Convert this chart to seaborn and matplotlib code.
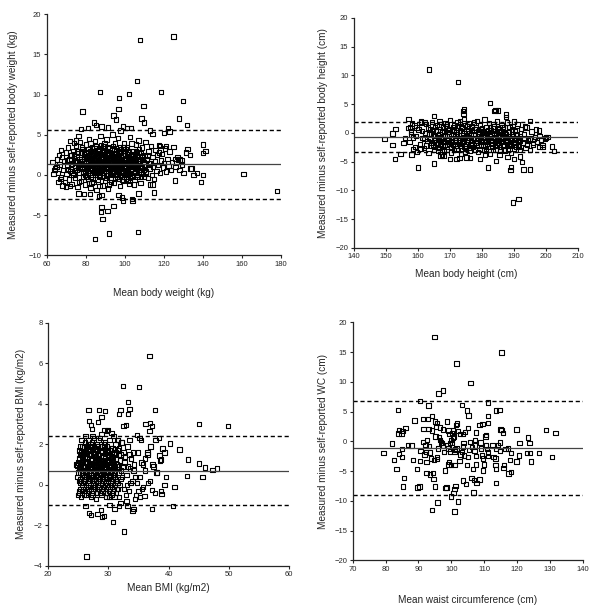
import matplotlib

matplotlib.use("Agg")
import matplotlib.pyplot as plt
import pandas as pd
import seaborn as sns

# ---- body weight: (mean, measured - self-reported) ----
weight_core = [
    (64.2, 0.8), (65.1, 1.9), (65.8, 0.2), (66.5, 1.3), (67.2, -0.3), (67.9, 2.2), (68.4, 0.6), (68.8, 1.7),
    (69.3, -0.9), (69.7, 2.8), (70.1, 0.1), (70.6, 1.1), (70.9, 3.4), (71.3, -0.6), (71.6, 1.9), (72.0, 0.5),
    (72.3, 2.5), (72.7, -1.1), (73.0, 1.4), (73.4, 3.0), (73.7, 0.0), (74.1, 2.1), (74.4, -0.4), (74.8, 0.9),
    (75.1, 3.6), (75.4, 1.6), (75.8, -1.5), (76.1, 2.7), (76.4, 0.3), (76.8, 1.2), (77.1, 4.1), (77.4, -0.8),
    (77.7, 2.0), (78.0, 0.7), (78.3, 3.2), (78.6, -0.2), (78.9, 1.5), (79.2, 2.6), (79.5, -1.2), (79.8, 0.4),
    (80.1, 3.8), (80.4, 1.0), (80.7, 2.2), (81.0, -0.5), (81.3, 1.7), (81.6, 4.5), (81.9, 0.2), (82.2, 2.9),
    (82.5, -1.6), (82.8, 1.3), (83.1, 3.4), (83.4, 0.6), (83.7, 2.4), (84.0, -0.9), (84.3, 1.9), (84.6, 4.2),
    (84.9, 0.0), (85.2, 2.6), (85.5, -1.9), (85.8, 1.1), (86.1, 3.1), (86.4, 0.5), (86.7, 2.0), (87.0, -0.3),
    (87.3, 1.6), (87.6, 4.8), (87.9, 0.9), (88.2, 2.8), (88.5, -1.3), (88.8, 1.4), (89.1, 3.6), (89.4, 0.2),
    (89.7, 2.3), (90.0, -0.7), (90.3, 1.8), (90.6, 4.4), (90.9, 0.7), (91.2, 2.5), (91.5, -1.7), (91.8, 1.2),
    (92.1, 3.3), (92.4, 0.1), (92.7, 2.1), (93.0, -0.4), (93.3, 1.5), (93.6, 5.0), (93.9, 0.8), (94.2, 2.7),
    (94.5, -1.0), (94.8, 1.0), (95.1, 3.9), (95.4, 0.4), (95.7, 2.2), (96.0, -0.2), (96.3, 1.7), (96.6, 4.6),
    (96.9, 0.6), (97.2, 2.9), (97.5, -1.4), (97.8, 1.3), (98.1, 3.2), (98.4, 0.0), (98.7, 2.0), (99.0, -0.8),
    (99.3, 1.6), (99.6, 4.0), (99.9, 0.9), (100.2, 2.4), (100.5, -0.5), (100.8, 1.1), (101.1, 3.5), (101.4, 0.3),
    (101.7, 1.9), (102.0, -1.1), (102.3, 1.4), (102.6, 4.7), (102.9, 0.6), (103.2, 2.6), (103.5, -0.1), (103.8, 1.2),
    (104.1, 3.0), (104.4, 0.2), (104.7, 2.1), (105.0, -0.6), (105.3, 1.5), (105.6, 3.8), (105.9, 0.8), (106.2, 2.3),
    (106.5, -0.3), (106.8, 1.0), (107.1, 4.3), (107.4, 0.4), (107.7, 1.8), (108.0, -1.0), (108.3, 2.7), (108.6, 0.9),
    (108.9, 3.4), (109.2, 0.1), (109.5, 1.6), (109.8, -0.2), (110.1, 2.4), (110.4, 1.1), (110.7, 4.1), (111.0, 0.3),
    (111.4, 1.9), (111.8, -0.4), (112.2, 2.9), (112.6, 0.7), (113.0, 1.4), (113.4, 3.6), (113.8, 0.0), (114.2, 2.2),
    (114.6, 1.0), (115.0, -0.5), (115.4, 1.7), (115.8, 3.1), (116.2, 0.5), (116.6, 2.5), (117.0, 1.2), (117.5, 3.7),
    (118.0, 0.2), (118.5, 1.8), (119.0, 2.6), (119.5, 0.9), (120.0, 1.5), (120.6, 3.3), (121.2, 0.4), (121.8, 2.0),
    (122.4, 1.1), (123.0, 2.9), (123.6, 0.6), (124.2, 1.6), (125.0, 3.5), (126.0, 1.0), (127.0, 2.2), (128.0, 0.6),
    (129.0, 1.8),
    (74.5, 1.8), (75.2, 0.6), (75.9, 2.9), (76.6, -0.9), (77.3, 1.4), (78.1, 3.5), (78.8, 0.2), (79.4, 2.3),
    (80.0, -0.3), (80.6, 1.2), (81.2, 2.7), (81.8, 0.9), (82.4, 3.9), (83.0, -1.0), (83.6, 1.6), (84.2, 0.3),
    (84.8, 2.9), (85.4, 1.0), (86.0, -0.6), (86.6, 2.4), (87.2, 0.4), (87.8, 3.7), (88.4, 1.1), (89.0, -0.1),
    (89.6, 2.6), (90.2, 0.5), (90.8, 3.0), (91.4, 1.3), (92.0, -1.2), (92.6, 2.0), (93.2, 0.7), (93.8, 3.6),
    (94.4, 1.4), (95.0, -0.4), (95.6, 2.9), (96.2, 0.1), (96.8, 1.9), (97.4, 3.4), (98.0, 0.8), (98.6, -0.6),
    (99.2, 2.5), (99.8, 1.0), (100.4, 3.2), (101.0, 0.5), (101.6, -0.8), (102.2, 2.3), (102.8, 1.0), (103.4, 3.9),
    (104.0, 0.7), (104.6, -1.2), (105.2, 2.6), (105.8, 1.3), (106.4, 0.0), (107.0, 2.8), (107.6, 1.4), (108.2, -0.3),
    (109.0, 2.0), (110.0, 0.6),
    (78.4, 1.0), (79.0, 2.0), (79.7, 0.0), (80.3, 2.8), (81.1, 1.1), (81.7, -1.0), (82.3, 1.8), (83.0, 0.8),
    (83.8, 3.0), (84.5, 1.4), (85.1, 0.3), (85.9, 2.2), (86.5, 1.6), (87.1, -1.4), (87.7, 2.5), (88.3, 0.2),
    (89.0, 1.9), (89.6, 3.9), (90.3, 1.0), (91.0, 0.0), (91.6, 2.6), (92.3, 1.5), (93.0, -0.9), (93.7, 2.3),
    (94.3, 0.4), (95.0, 1.6), (95.7, 3.1), (96.4, 1.0), (97.1, -0.5), (97.8, 2.4), (98.5, 1.2), (99.3, 0.3),
    (100.0, 3.0), (100.7, 1.6), (101.5, 0.1), (102.3, 2.9), (103.1, 1.6), (104.0, -0.2), (105.0, 1.8), (106.0, 2.5),
    (107.0, 0.6),
    (80.2, 1.6), (80.9, 0.3), (81.5, 2.4), (82.0, 0.9), (82.7, -0.3), (83.3, 2.1), (83.9, 1.2), (84.4, 3.3),
    (85.0, 1.8), (85.6, 0.6), (86.2, 2.9), (86.8, -0.1), (87.4, 1.3), (88.0, 2.2), (88.6, 0.7), (89.2, 3.1),
    (89.8, 1.5), (90.4, -0.4), (91.0, 2.0), (91.7, 0.9), (92.2, 2.8), (92.9, 1.1), (93.5, 0.0), (94.0, 1.9),
    (94.6, 3.2), (95.2, 0.9), (95.9, 1.4), (96.5, 2.5), (97.0, 0.3), (97.6, 1.7), (98.2, 2.7), (98.9, 1.5),
    (99.5, -0.2), (100.1, 1.9), (100.6, 0.8), (101.3, 2.8), (101.9, 1.2), (102.5, 0.2), (103.0, 1.9), (103.6, 1.0),
    (104.3, 2.3),
    (70.4, 1.8), (71.0, 0.7), (71.9, 2.4), (72.5, 1.2), (73.2, 0.2), (73.9, 2.6), (74.6, 0.6), (75.3, 2.3),
    (76.0, 1.0), (76.7, 1.9), (77.5, 2.8), (78.2, 1.7), (79.1, 0.9), (79.9, 1.4), (80.8, 0.5), (81.4, 3.2),
    (82.1, 2.1), (82.9, 1.5), (83.5, 0.0), (84.1, 2.7), (84.7, 0.8), (85.3, 3.6), (85.9, 0.2), (86.3, 1.8),
    (86.9, 3.3), (87.5, 0.6), (88.1, 1.7), (88.7, 2.9), (89.3, 0.9), (89.9, 2.0), (90.5, 1.2), (91.1, 3.5),
    (91.7, 2.1), (92.5, 0.4), (93.1, 2.6), (93.5, 1.0), (94.1, 0.2), (94.7, 2.0), (95.3, 2.6), (95.9, 0.0),
    (96.7, 3.0), (97.3, 1.1), (98.0, 1.9), (98.8, 0.5), (99.4, 3.4), (100.3, 0.1), (100.9, 2.1), (101.8, 2.6),
    (102.7, -0.4), (103.3, 2.0), (104.2, 1.4), (105.1, 0.9), (105.7, 2.9), (106.6, 1.7), (107.3, 3.2), (108.1, 0.9),
    (108.8, 2.3), (109.7, 1.3), (110.6, 0.4), (111.6, 2.4), (112.4, 1.5),
]
weight_outliers = [
    (107.9, 16.8), (124.9, 17.2), (106.2, 11.7), (87.2, 10.3), (102.3, 10.1), (118.5, 10.3), (97.0, 9.6),
    (129.9, 9.2), (109.5, 8.6), (96.7, 8.2), (78.4, 7.9), (94.3, 7.4), (95.4, 6.9), (108.6, 7.0), (127.8, 7.0),
    (109.8, 6.5), (131.9, 6.2), (84.1, 6.5), (77.5, 5.7), (123.0, 5.4), (122.0, 5.8), (120.0, 5.2), (113.0, 5.5),
    (114.2, 5.1), (103.2, 5.8), (101.0, 5.8), (99.0, 6.0), (88.0, 6.0), (85.3, 6.2), (81.0, 5.8), (91.5, 5.9),
    (97.8, 5.5), (140.1, 3.8), (141.4, 2.95), (140.2, 2.7), (133.3, 2.5), (132.2, 3.2), (131.4, 2.8), (127.3, 1.9),
    (129.2, 1.3), (133.6, 0.8), (134.3, 0.8), (137.0, 0.2), (135.2, 0.0), (140.0, 0.0), (130.2, 0.2), (139.0, -0.9),
    (160.8, 0.1), (178.1, -2.0), (125.6, -0.7), (84.8, -8.0), (91.8, -7.3), (106.9, -7.1), (88.6, -5.5),
    (87.7, -4.6), (91.1, -4.5), (88.1, -4.0), (94.2, -3.9), (103.7, -3.0), (103.9, -3.2), (99.0, -3.2),
    (98.5, -2.8), (96.8, -2.5), (107.0, -2.3), (115.1, -2.2), (113.0, -1.2), (114.3, -1.2), (88.0, -2.5),
    (86.8, -2.6), (82.0, -2.4), (79.0, -2.4), (76.2, -2.3), (63.0, 1.6), (63.5, 0.1), (64.0, 0.6), (65.0, 1.0),
    (66.0, -0.9), (67.0, -0.5), (66.3, 2.5), (67.3, 3.1), (68.0, -1.3), (70.0, -1.5), (72.0, -1.4), (74.0, 4.0),
    (75.0, 4.3), (76.2, 4.8), (72.0, 4.2), (118.0, 3.6), (121.0, 3.6), (117.5, 2.8), (126.0, 2.0), (128.0, 1.9),
]

# ---- body height ----
height_core = [
    (156.8, 0.8), (157.3, -1.6), (157.9, 0.2), (158.4, -2.8), (158.9, 1.3), (159.3, -0.5), (159.8, -3.3),
    (160.2, 0.6), (160.6, -1.9), (161.0, 1.8), (161.4, -0.9), (161.8, -2.6), (162.2, 0.0), (162.6, 1.5),
    (163.0, -1.4), (163.3, -3.5), (163.7, 0.7), (164.0, -2.2), (164.4, 1.9), (164.7, -0.4), (165.1, -3.0),
    (165.4, 1.0), (165.8, -1.7), (166.1, 0.3), (166.5, -2.6), (166.8, 2.0), (167.2, -0.9), (167.5, -3.8),
    (167.9, 0.9), (168.2, -1.5), (168.6, 1.6), (168.9, -2.9), (169.3, 0.1), (169.6, -1.1), (170.0, 2.2),
    (170.3, -3.4), (170.7, 0.5), (171.0, -2.0), (171.4, 1.3), (171.7, -0.6), (172.1, -2.7), (172.4, 1.9),
    (172.8, -1.3), (173.1, 0.4), (173.5, -3.6), (173.8, 1.0), (174.2, -0.8), (174.5, 2.4), (174.9, -2.3),
    (175.2, 0.2), (175.6, -1.6), (175.9, 1.6), (176.3, -3.1), (176.6, -0.2), (177.0, 1.2), (177.3, -2.5),
    (177.7, 0.6), (178.0, -1.0), (178.4, 2.1), (178.7, -3.3), (179.1, -0.5), (179.4, 1.4), (179.8, -2.0),
    (180.1, 0.8), (180.5, -1.4), (180.8, 2.3), (181.2, -2.8), (181.5, 0.0), (181.9, -1.1), (182.2, 1.7),
    (182.6, -3.7), (182.9, 0.4), (183.3, -1.9), (183.6, 1.1), (184.0, -0.7), (184.3, -2.9), (184.7, 2.0),
    (185.0, -1.2), (185.4, 0.6), (185.7, -3.2), (186.1, 1.4), (186.4, -0.4), (186.8, -2.2), (187.1, 0.9),
    (187.5, -1.6), (187.8, 1.8), (188.2, -2.7), (188.5, 0.1), (188.9, -1.0), (189.2, -3.5), (189.6, 1.2),
    (189.9, -1.8), (190.3, 0.3), (190.7, -2.4), (191.1, 1.5), (191.5, -0.9), (191.9, -3.0), (192.3, 0.7),
    (192.7, -1.7), (193.1, -0.3), (193.6, -2.6), (194.0, 0.9), (194.5, -1.3), (195.0, -3.0), (195.5, 0.2),
    (196.0, -2.0), (196.6, -0.7), (197.2, -1.6), (197.8, 0.4), (198.4, -1.2), (199.0, -2.1),
    (162.0, -1.0), (162.5, -2.2), (163.1, 0.9), (163.6, -0.2), (164.2, -1.7), (164.8, 0.5), (165.3, -2.5),
    (165.9, 1.4), (166.4, -0.7), (167.0, -2.0), (167.6, 0.2), (168.1, -3.1), (168.7, 1.2), (169.2, -1.6),
    (169.8, -0.3), (170.4, -2.5), (170.9, 1.0), (171.5, -1.2), (172.0, 0.1), (172.6, -3.0), (173.2, 2.0),
    (173.7, -1.8), (174.3, -0.1), (174.8, -3.3), (175.4, 1.1), (175.9, -0.9), (176.5, -2.1), (177.0, 0.3),
    (177.6, 1.8), (178.1, -1.7), (178.7, -0.3), (179.2, -2.8), (179.8, 0.6), (180.3, -0.8), (180.9, -2.2),
    (181.4, 1.0), (182.0, -1.5), (182.5, -0.1), (183.1, -2.5), (183.6, 1.5), (184.2, -1.0), (184.7, 0.3),
    (185.3, -2.0), (185.8, -0.7), (186.4, 1.0), (186.9, -2.9), (187.5, -0.2), (188.0, -1.4), (188.6, 1.0),
    (189.1, -2.2), (189.7, -0.6), (190.2, -1.2), (190.8, 0.5), (191.3, -2.0), (191.9, -0.5), (158.5, -0.8),
    (159.6, 0.9), (160.8, -2.8), (161.3, 0.3), (157.8, -0.3), (158.2, 1.6),
    (166.2, -1.2), (166.9, 0.6), (167.7, -2.4), (168.4, -0.4), (169.1, 1.5), (169.9, -1.9), (170.6, -0.9),
    (171.3, 0.6), (172.2, -0.3), (172.9, -1.9), (173.6, 0.8), (174.4, -1.3), (175.1, -2.7), (175.8, 0.4),
    (176.6, -1.2), (177.4, -0.4), (178.2, 0.9), (178.9, -2.2), (179.6, -1.3), (180.4, 0.2), (181.1, -0.4),
    (181.8, -2.4), (182.6, 0.9), (183.4, -0.9), (184.1, -1.6), (184.9, 0.8), (185.6, -2.5), (186.3, -1.0),
    (187.1, -0.1), (187.9, -2.0), (163.9, -1.0), (165.0, -0.6), (189.4, -0.2), (190.5, -1.6), (192.0, -1.4),
    (164.1, -0.1), (164.9, -2.0), (165.6, 0.4), (166.3, -3.2), (167.1, -1.4), (167.8, 1.1), (168.5, -0.6),
    (169.0, -2.4), (169.7, 0.7), (170.5, -1.4), (171.2, -3.0), (171.9, -0.9), (172.5, 0.9), (173.3, -2.3),
    (174.0, -0.4), (174.7, 1.4), (175.5, -1.2), (176.1, -2.6), (176.9, 0.9), (177.5, -1.0), (178.3, -2.2),
    (179.0, 0.2), (179.7, -0.7), (180.6, -3.0), (181.3, -1.6), (182.1, 0.5), (182.8, -1.2), (183.5, -3.0),
    (184.4, 0.0), (185.1, -1.8), (185.9, 0.2), (186.6, -1.4), (187.3, -3.1), (188.1, -0.6), (188.8, -1.9),
    (189.5, 0.6), (190.1, -2.8), (190.9, -0.4), (191.7, -1.3), (193.3, -1.0), (194.2, -2.0), (196.3, -1.1),
    (165.2, -1.2), (166.0, -1.9), (166.7, -0.2), (167.4, -1.1), (168.3, -2.1), (169.0, -0.5), (169.5, 0.5),
    (170.2, -1.6), (171.1, -0.4), (171.8, -1.6), (172.3, -2.2), (173.0, -0.9), (173.9, -1.5), (174.6, -2.4),
    (175.3, -0.5), (176.0, 0.0), (176.8, -1.7), (177.8, -2.9), (178.5, -1.3), (179.3, -0.1), (180.0, -1.6),
    (180.7, -0.3), (181.6, -1.9), (182.4, -0.6), (183.2, -1.4), (183.9, -0.2), (184.6, -2.2), (185.2, -0.5),
    (186.0, -1.6), (186.7, -0.8), (187.4, -1.2), (188.4, -2.3), (189.3, -0.9), (190.6, -0.9), (191.6, -2.4),
]
height_outliers = [
    (163.4, 11.0), (172.5, 8.8), (182.6, 5.2), (183.9, 3.8), (185.0, 3.9), (184.3, 4.0), (174.5, 4.1),
    (174.1, 3.8), (174.2, 3.3), (187.5, 3.2), (187.6, 2.8), (195.0, 2.1), (190.0, 2.0), (193.5, 1.1),
    (197.0, 0.6), (157.0, 2.4), (165.0, 2.9), (149.6, -1.05), (152.0, -0.1), (152.0, -2.1), (153.0, 0.7),
    (152.8, -4.5), (154.5, -3.7), (158.0, -3.8), (160.1, -6.0), (165.0, -5.3), (172.0, -4.5), (173.0, -4.4),
    (175.2, -4.3), (176.3, -4.4), (179.5, -4.6), (182.0, -6.0), (184.5, -4.9), (189.0, -6.5), (189.2, -5.9),
    (190.0, -4.5), (192.0, -4.1), (192.5, -5.1), (193.0, -6.4), (195.0, -6.4), (189.8, -12.1), (191.4, -11.5),
    (198.0, -2.5), (199.0, -2.5), (199.7, -1.0), (200.0, -0.8), (200.5, -0.7), (202.0, -2.4), (202.5, -3.2),
    (198.0, -0.5), (196.0, -1.8), (195.0, -1.0), (155.5, -1.8), (156.0, -0.9), (157.5, 0.9), (159.0, -2.5),
    (161.0, 2.0), (162.0, 1.9), (167.0, -4.0), (168.0, -4.0), (170.0, -4.5), (181.0, -3.9), (185.5, -3.8),
    (188.0, -4.2),
]

# ---- BMI ----
bmi_core = [
    (24.9, 0.4), (25.0, 1.1), (25.1, -0.3), (25.2, 0.8), (25.3, 1.5), (25.4, 0.1), (25.5, -0.6), (25.6, 1.9),
    (25.7, 0.6), (25.8, 1.2), (25.9, -0.2), (26.0, 0.9), (26.1, 2.1), (26.2, 0.3), (26.3, -0.5), (26.4, 1.4),
    (26.5, 0.7), (26.6, -0.1), (26.7, 2.2), (26.8, 1.0), (26.9, 0.2), (27.0, 1.7), (27.1, -0.6), (27.2, 0.5),
    (27.3, 1.3), (27.4, 2.4), (27.5, -0.3), (27.6, 0.9), (27.7, 1.8), (27.8, 0.0), (27.9, 1.1), (28.0, -0.7),
    (28.1, 2.0), (28.2, 0.4), (28.3, 1.5), (28.4, -0.2), (28.5, 0.8), (28.6, 2.3), (28.7, 0.1), (28.8, 1.2),
    (28.9, -0.5), (29.0, 1.9), (29.1, 0.6), (29.2, 1.4), (29.3, -0.1), (29.4, 0.9), (29.5, 2.1), (29.6, 0.3),
    (29.7, -0.6), (29.8, 1.6), (29.9, 0.7), (30.0, 1.1), (30.1, -0.3), (30.2, 2.2), (30.3, 0.5), (30.4, 1.3),
    (30.5, -0.5), (30.6, 0.2), (30.7, 1.8), (30.8, 0.8), (30.9, -0.2), (31.0, 1.5), (31.1, 0.4), (31.2, 2.0),
    (31.3, -0.4), (31.4, 1.0), (31.5, 0.1), (31.6, 1.7), (31.7, 0.6), (31.8, -0.6), (31.9, 1.2), (32.0, 0.3),
    (32.2, 2.1), (32.4, 0.9), (32.6, -0.2), (32.8, 1.4), (33.0, 0.5), (33.2, 1.9), (33.4, -0.3), (33.6, 0.8),
    (33.8, 1.3), (34.0, 0.2), (34.3, 1.0), (34.6, -0.5), (34.9, 1.6), (35.2, 0.4), (35.5, 1.1), (35.8, -0.1),
    (36.1, 0.7), (36.5, 1.5), (36.9, 0.2), (37.3, 1.0), (37.7, -0.4), (38.1, 0.6), (38.6, 1.2),
    (25.05, 0.6), (25.15, 1.7), (25.25, -0.4), (25.35, 0.3), (25.45, 1.0), (25.55, 2.2), (25.65, 0.0),
    (25.75, 0.7), (25.85, 1.6), (25.95, -0.5), (26.05, 0.4), (26.15, 1.3), (26.25, 2.4), (26.35, 0.0),
    (26.45, 0.9), (26.55, 1.8), (26.65, -0.4), (26.75, 0.6), (26.85, 1.5), (26.95, -0.1), (27.05, 2.0),
    (27.15, 1.0), (27.25, 0.2), (27.35, -0.5), (27.45, 1.6), (27.55, 0.6), (27.65, 2.3), (27.75, -0.2),
    (27.85, 0.4), (27.95, 1.4), (28.05, 0.9), (28.15, -0.4), (28.25, 1.9), (28.35, 0.2), (28.45, 1.1),
    (28.55, -0.1), (28.65, 0.6), (28.75, 1.7), (28.85, 2.5), (28.95, 0.3), (29.05, -0.3), (29.15, 1.0),
    (29.25, 2.0), (29.35, 0.5), (29.45, 1.3), (29.55, -0.4), (29.65, 0.8), (29.75, 1.9), (29.85, 0.0),
    (29.95, 0.6), (30.05, 1.5), (30.15, -0.6), (30.25, 1.0), (30.35, 0.1), (30.45, 1.8), (30.55, 0.7),
    (30.65, -0.1), (30.75, 1.2), (30.85, 2.4), (30.95, 0.5), (31.05, -0.6), (31.15, 0.9), (31.25, 1.3),
    (31.35, 0.2), (31.45, -0.2), (31.55, 2.2), (31.65, 0.9), (31.75, 1.5), (31.85, 0.0),
    (25.3, 0.9), (25.5, 0.2), (25.7, 1.4), (25.9, 0.5), (26.1, -0.3), (26.3, 0.6), (26.5, 1.3), (26.7, 0.1),
    (26.9, 0.8), (27.1, 1.5), (27.3, 0.3), (27.5, -0.1), (27.7, 0.7), (27.9, 1.8), (28.1, 0.5), (28.3, 0.0),
    (28.5, 1.3), (28.7, 0.7), (28.9, -0.2), (29.1, 0.4), (29.3, 1.1), (29.5, 0.0), (29.7, 0.6), (29.9, 1.4),
    (30.1, 0.3), (30.3, -0.2), (30.5, 0.9), (30.7, 0.3), (30.9, 1.6), (31.1, 0.6), (26.0, 1.6), (26.6, 0.4),
    (27.2, -0.4), (27.8, 0.6), (28.4, 1.0), (29.0, 0.1), (29.6, 1.0), (30.2, 0.4), (25.4, -0.2), (25.6, 0.5),
    (32.1, 0.7), (32.5, 1.6), (32.9, -0.5), (33.3, 0.9), (33.7, 0.1), (34.1, 1.6), (34.5, 0.4), (35.0, -0.3),
    (25.22, 1.3), (25.38, 0.6), (25.52, 1.6), (25.68, -0.3), (25.82, 0.9), (25.98, 1.9), (26.12, 0.7),
    (26.28, 1.6), (26.42, -0.2), (26.58, 1.1), (26.72, 0.3), (26.88, 1.9), (27.02, 0.4), (27.18, 1.2),
    (27.32, 2.1), (27.48, 0.1), (27.62, 1.0), (27.78, 1.5), (27.92, -0.4), (28.08, 1.3), (28.22, 0.7),
    (28.38, 2.2), (28.52, 0.3), (28.68, 1.0), (28.82, 0.5), (28.98, 1.6), (29.12, -0.1), (29.28, 0.8),
    (29.42, 1.7), (29.58, 0.4), (29.72, 1.2), (29.88, -0.4), (30.02, 0.9), (30.18, 1.7), (30.32, 0.7),
    (30.48, 0.0), (30.62, 1.4), (30.78, 0.5), (30.92, 1.0), (31.2, 0.2), (31.5, 0.9), (31.8, 1.8), (32.3, 0.4),
    (32.7, 1.1), (33.1, 0.0), (33.5, 1.5), (34.2, 0.7), (34.8, 0.1),
    (25.1, 0.2), (25.3, 1.9), (25.6, 1.1), (25.8, 0.1), (26.0, 0.2), (26.2, 1.1), (26.4, 0.4), (26.6, 2.0),
    (26.8, 0.4), (27.0, 0.9), (27.2, 1.9), (27.4, 0.8), (27.6, 0.3), (27.8, 1.2), (28.0, 0.2), (28.2, 1.7),
    (28.4, 0.5), (28.6, -0.4), (28.8, 0.9), (29.0, 1.2), (29.2, 0.2), (29.4, 1.9), (29.6, -0.2), (29.8, 0.3),
    (30.0, 1.7), (30.2, -0.6), (30.4, 0.6), (30.6, 1.1), (30.8, -0.4), (31.0, 0.0), (31.3, 1.6), (31.6, -0.2),
    (32.0, 1.5),
]
bmi_outliers = [
    (36.8, 6.35), (32.4, 4.88), (35.1, 4.84), (33.3, 4.1), (33.5, 3.75), (33.3, 3.5), (31.8, 3.5), (29.5, 3.65),
    (28.5, 3.7), (26.7, 3.7), (32.0, 3.7), (37.7, 3.7), (36.2, 3.0), (36.9, 3.05), (37.2, 2.9), (36.8, 2.65),
    (45.0, 3.0), (49.9, 2.9), (38.4, 2.3), (37.8, 2.2), (40.2, 2.05), (41.8, 1.75), (39.3, 1.6), (39.0, 1.8),
    (38.5, 1.45), (38.7, 1.25), (43.2, 1.25), (45.0, 1.05), (46.0, 0.85), (47.3, 0.72), (48.0, 0.8), (45.6, 0.4),
    (43.1, 0.45), (41.0, -0.1), (39.6, 0.4), (39.3, 0.0), (38.7, -0.3), (38.8, -0.45), (40.7, -1.05),
    (37.2, -1.2), (37.2, -0.25), (36.0, -0.55), (35.3, -0.6), (34.2, -1.2), (34.0, -1.3), (33.2, -1.05),
    (31.8, -1.05), (31.0, -1.2), (30.2, -1.0), (30.8, -1.85), (32.6, -2.3), (29.3, -1.55), (29.0, -1.6),
    (28.8, -1.25), (28.2, -1.45), (27.1, -1.5), (26.8, -1.4), (26.2, -1.05), (26.4, -3.55), (24.6, 1.0),
    (24.8, 0.95), (25.0, -0.5), (26.8, 3.15), (27.1, 2.95), (27.3, 2.75), (28.3, 3.1), (28.9, 3.35),
    (29.4, 2.7), (29.8, 2.65), (30.5, 2.55), (32.5, 2.9), (32.9, 2.95), (33.5, 2.2), (34.8, 2.45), (35.2, 2.3),
    (35.4, 2.2), (30.0, 2.7), (31.6, 2.2), (32.3, 2.1), (36.5, 1.6), (37.0, 1.9), (36.1, 1.3), (35.8, 1.0),
    (37.5, 0.9), (38.0, 0.6), (36.6, 0.1), (35.6, -0.2), (34.4, -0.7), (33.0, -0.8), (32.0, -0.9),
]

# ---- waist circumference ----
waist_pts = [
    (94.9, 17.5), (115.3, 14.9), (101.6, 13.1), (105.8, 9.8), (97.4, 8.5), (96.1, 8.0), (90.5, 6.8),
    (111.1, 6.5), (83.8, 5.3), (93.0, 6.0), (103.3, 6.1), (104.7, 5.2), (105.2, 4.3), (113.6, 5.2),
    (114.7, 5.3), (111.1, 4.2), (94.2, 4.2), (91.4, 3.7), (88.8, 3.5), (92.9, 3.7), (95.1, 3.3), (95.6, 3.1),
    (98.7, 3.3), (101.7, 3.0), (101.4, 2.7), (111.2, 3.1), (108.6, 2.7), (109.5, 2.9), (84.0, 1.9),
    (83.9, 1.3), (84.8, 1.3), (86.1, 2.2), (85.1, 1.7), (91.5, 2.1), (93.1, 2.1), (94.1, 1.8), (95.4, 2.5),
    (96.5, 2.3), (97.5, 2.0), (99.2, 1.8), (99.5, 1.2), (100.2, 1.3), (100.6, 1.8), (100.9, 0.8), (102.1, 1.7),
    (102.6, 1.2), (103.5, 1.2), (104.1, 1.6), (105.0, 2.2), (107.6, 1.5), (110.4, 0.8), (110.5, 1.1),
    (115.0, 2.0), (115.3, 1.9), (115.7, 1.4), (119.9, 2.0), (128.9, 1.9), (131.7, 1.4), (123.4, 0.6),
    (123.8, -0.3), (120.8, -0.3), (112.5, -0.6), (114.9, -0.2), (117.2, -1.2), (81.9, -0.4), (86.8, -0.6),
    (87.9, -0.7), (85.0, -1.3), (79.3, -2.0), (82.5, -3.2), (83.3, -4.7), (85.0, -2.6), (85.6, -6.2),
    (85.3, -7.6), (88.3, -3.1), (89.5, -4.7), (89.7, -7.8), (90.3, -7.6), (90.6, -1.6), (90.4, -3.3),
    (91.8, -2.2), (92.3, -1.8), (92.4, -3.5), (92.5, -5.3), (93.6, -5.6), (94.5, -5.3), (94.6, -6.3),
    (94.1, -11.6), (95.1, -7.6), (95.6, -3.0), (95.7, -2.6), (95.9, -1.2), (96.5, 0.2), (96.2, 0.7),
    (96.8, -0.2), (97.2, -0.3), (97.5, -0.7), (97.8, -1.8), (98.1, -4.9), (98.2, -7.9), (98.6, -7.8),
    (98.8, -0.7), (99.1, -1.2), (99.3, -3.5), (99.2, -3.9), (99.9, -4.0), (99.7, -1.7), (99.7, -0.3),
    (100.0, 0.2), (100.3, -0.3), (100.5, 0.6), (100.0, -9.3), (100.7, -8.7), (101.0, -4.0), (101.0, -1.7),
    (101.2, -1.4), (101.6, -1.2), (101.3, -7.5), (101.0, -8.0), (101.0, -11.8), (102.1, -10.1), (95.8, -10.3),
    (102.5, -3.3), (102.8, -2.2), (103.2, -1.8), (103.5, -0.9), (103.7, -0.3), (103.9, -2.4), (103.6, -6.6),
    (104.4, -7.2), (104.8, -4.0), (105.0, -2.6), (105.4, -1.5), (105.7, -0.1), (106.4, -1.0), (106.2, -6.2),
    (106.6, -4.7), (106.8, -8.6), (106.9, -6.5), (107.3, 0.2), (107.2, -0.7), (107.1, -1.6), (107.5, -2.5),
    (107.6, -3.9), (107.7, -7.0), (108.6, -6.4), (108.9, -0.2), (109.1, -1.2), (109.3, -2.4), (109.6, -2.9),
    (109.7, -4.9), (110.0, -3.9), (110.6, -0.7), (110.8, -1.3), (111.1, -1.9), (111.2, -2.5), (112.8, -2.6),
    (113.5, -2.9), (113.5, -4.0), (113.6, -4.7), (113.6, -7.0), (113.7, -1.3), (114.3, -0.6), (114.9, -1.6),
    (115.9, -4.5), (116.1, -4.0), (116.5, -1.3), (117.4, -5.4), (118.1, -5.2), (117.8, -3.1), (118.1, -2.0),
    (119.9, -3.4), (120.7, -2.4), (123.1, -2.0), (124.0, -2.0), (124.2, -3.4), (126.8, -2.0), (130.6, -2.6),
    (84.1, -2.1), (91.3, -0.1), (92.1, -0.6), (93.2, -0.8), (93.6, -1.9), (93.9, -2.9), (94.7, -3.1),
    (92.6, 0.2), (95.2, 0.8),
]

# mean difference and limits of agreement (lower, mean, upper)
weight_lines = (-2.95, 1.35, 5.6)
height_lines = (-3.3, -0.7, 1.95)
bmi_lines = (-0.99, 0.69, 2.42)
waist_lines = (-8.95, -1.05, 6.85)

sns.set_style("ticks")
plt.rcParams["font.family"] = ["Liberation Sans", "DejaVu Sans"]

fig = plt.figure(figsize=(6, 6.15), dpi=100)


def bland_altman(rect, pts, lines, xlim, ylim, xstep, ystep, xlabel, ylabel, xlab_y, ylab_x):
    ax = fig.add_axes(rect)
    df = pd.DataFrame(pts, columns=["mean", "diff"])
    sns.scatterplot(data=df, x="mean", y="diff", ax=ax, marker="s", s=10,
                    facecolors="none", edgecolor="black", linewidth=0.8, legend=False)
    lo, mid, hi = lines
    ax.axhline(mid, color="#444444", lw=0.9)
    ax.axhline(lo, color="black", lw=1.0, dashes=(3, 2))
    ax.axhline(hi, color="black", lw=1.0, dashes=(3, 2))
    ax.set_xlim(*xlim)
    ax.set_ylim(*ylim)
    ax.set_xticks(range(xlim[0], xlim[1] + 1, xstep))
    ax.set_yticks(range(ylim[0], ylim[1] + 1, ystep))
    ax.tick_params(labelsize=5.5, length=2, width=0.8, pad=2)
    sns.despine(ax=ax)
    for s in ("left", "bottom"):
        ax.spines[s].set_linewidth(0.9)
    ax.set_xlabel(xlabel, fontsize=7.2)
    ax.set_ylabel(ylabel, fontsize=7.2)
    ax.xaxis.label.set_va("center")
    ax.yaxis.label.set_va("center")
    ax.xaxis.set_label_coords(0.5, xlab_y)
    ax.yaxis.set_label_coords(ylab_x, 0.5)
    return ax


bland_altman([0.078, 0.585, 0.39, 0.392], weight_core + weight_outliers, weight_lines,
             (60, 180), (-10, 20), 20, 5, "Mean body weight (kg)",
             "Measured minus self-reported body weight (kg)", -0.158, -0.145)
bland_altman([0.59, 0.597, 0.373, 0.374], height_core + height_outliers, height_lines,
             (140, 210), (-20, 20), 10, 5, "Mean body height (cm)",
             "Measured minus self-reported body height (cm)", -0.113, -0.138)
bland_altman([0.08, 0.080, 0.402, 0.395], bmi_core + bmi_outliers, bmi_lines,
             (20, 60), (-4, 8), 10, 2, "Mean BMI (kg/m2)",
             "Measured minus self-reported BMI (kg/m2)", -0.09, -0.112)
bland_altman([0.588, 0.089, 0.383, 0.387], waist_pts, waist_lines,
             (70, 140), (-20, 20), 10, 5, "Mean waist circumference (cm)",
             "Measured minus self-reported WC (cm)", -0.168, -0.130)

fig.savefig("out.png", dpi=100)
